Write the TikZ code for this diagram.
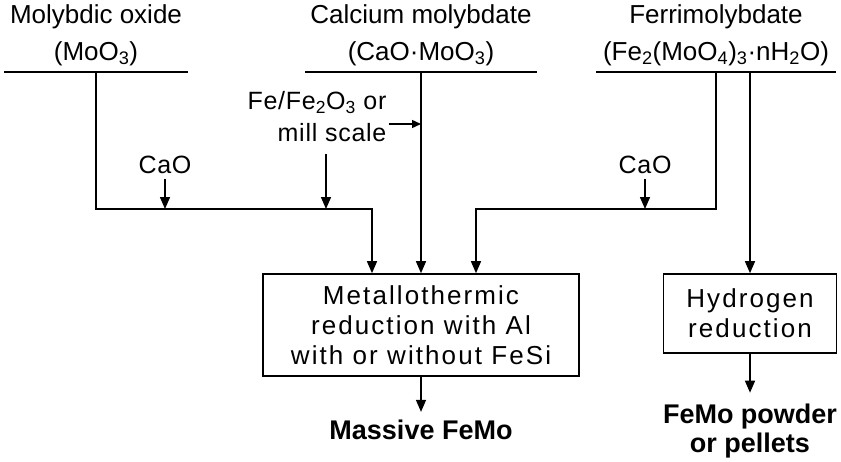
\documentclass[tikz,border=0pt]{standalone}
\usepackage{fontspec}
\setmainfont{Liberation Sans}
\usetikzlibrary{arrows.meta}
\tikzset{
    source-label/.style = {align=center, inner sep=0pt, font=\fontsize{26}{37}\selectfont},
    feed-label/.style = {inner sep=2pt, font=\fontsize{25}{32}\selectfont\addfontfeature{LetterSpace=3}},
    process-box/.style = {draw, line width=1.6pt, rectangle, align=center, inner sep=0pt, font=\fontsize{26}{30}\selectfont\addfontfeature{LetterSpace=8}},
    product-label/.style = {align=center, inner xsep=0pt, font=\fontsize{27}{29}\selectfont\bfseries},
    flow-line/.style = {line width=1.4pt},
    flow-arrow/.style = {flow-line, -{Triangle[length=12pt, width=10pt]}},
    small-arrow/.style = {flow-line, -{Triangle[length=9pt, width=8pt]}},
}

\begin{document}
\begin{tikzpicture}[x=1pt, y=-1pt]
\useasboundingbox (0,0) rectangle (841,461);
% raw materials
\node[source-label] (molyb) at (96,35) {Molybdic oxide\\(MoO\textsubscript{3})};
\node[source-label] (calc) at (421,35) {Calcium molybdate\\(CaO·MoO\textsubscript{3})};
\node[source-label] (ferri) at (716,35) {Ferrimolybdate\\(Fe\textsubscript{2}(MoO\textsubscript{4})\textsubscript{3}·nH\textsubscript{2}O)};
\coordinate (molyb-w) at (4,72);
\coordinate (molyb-e) at (188,72);
\coordinate (calc-w) at (305,72);
\coordinate (calc-e) at (537,72);
\coordinate (ferri-w) at (596,72);
\coordinate (ferri-e) at (836,72);
\draw[flow-line] (molyb-w) -- (molyb-e);
\draw[flow-line] (calc-w) -- (calc-e);
\draw[flow-line] (ferri-w) -- (ferri-e);
\coordinate (molyb-tap) at (96,72);
\coordinate (calc-tap) at (421,72);
\coordinate (ferri-tap) at (716,72);
\coordinate (hydro-tap) at (750,72);
\coordinate (mix-row) at (0,209);

% processes and products
\node[process-box, minimum width=316pt, minimum height=102pt] (metal) at (421,325) {Metallothermic\\reduction with Al\\with or without FeSi};
\node[process-box, minimum width=173pt, minimum height=79pt] (hydro) at (750,313.5) {Hydrogen\\reduction};
\node[product-label, inner ysep=8pt] (massive) at (421,430) {Massive FeMo};
\node[product-label, inner ysep=11pt] (powder) at (750,431) {FeMo powder\\or pellets};

% additions
\node[feed-label, inner sep=5pt] (cao-left) at (165,165) {CaO};
\node[feed-label, inner sep=5pt] (cao-right) at (645,165) {CaO};
\node[feed-label, align=right] (fe-add) at (317,117) {Fe/Fe\textsubscript{2}O\textsubscript{3} or\\mill scale};
\coordinate (fe-drop) at (326,154);

% flows
\draw[flow-arrow] (molyb-tap) -- (molyb-tap |- mix-row) -| ([xshift=-49pt]metal.north);
\draw[flow-arrow] (cao-left) -- (cao-left |- mix-row);
\draw[flow-arrow] (fe-drop) -- (fe-drop |- mix-row);
\draw[small-arrow] ([yshift=-7pt]fe-add.east) -- ([yshift=-7pt]fe-add.east -| calc-tap);
\draw[flow-arrow] (calc-tap) -- (metal.north);
\draw[flow-arrow] (ferri-tap) -- (ferri-tap |- mix-row) -| ([xshift=55pt]metal.north);
\draw[flow-arrow] (cao-right) -- (cao-right |- mix-row);
\draw[flow-arrow] (hydro-tap) -- (hydro.north);
\draw[flow-arrow] (metal) -- (massive);
\draw[flow-arrow] (hydro) -- (powder);
\end{tikzpicture}
\end{document}
